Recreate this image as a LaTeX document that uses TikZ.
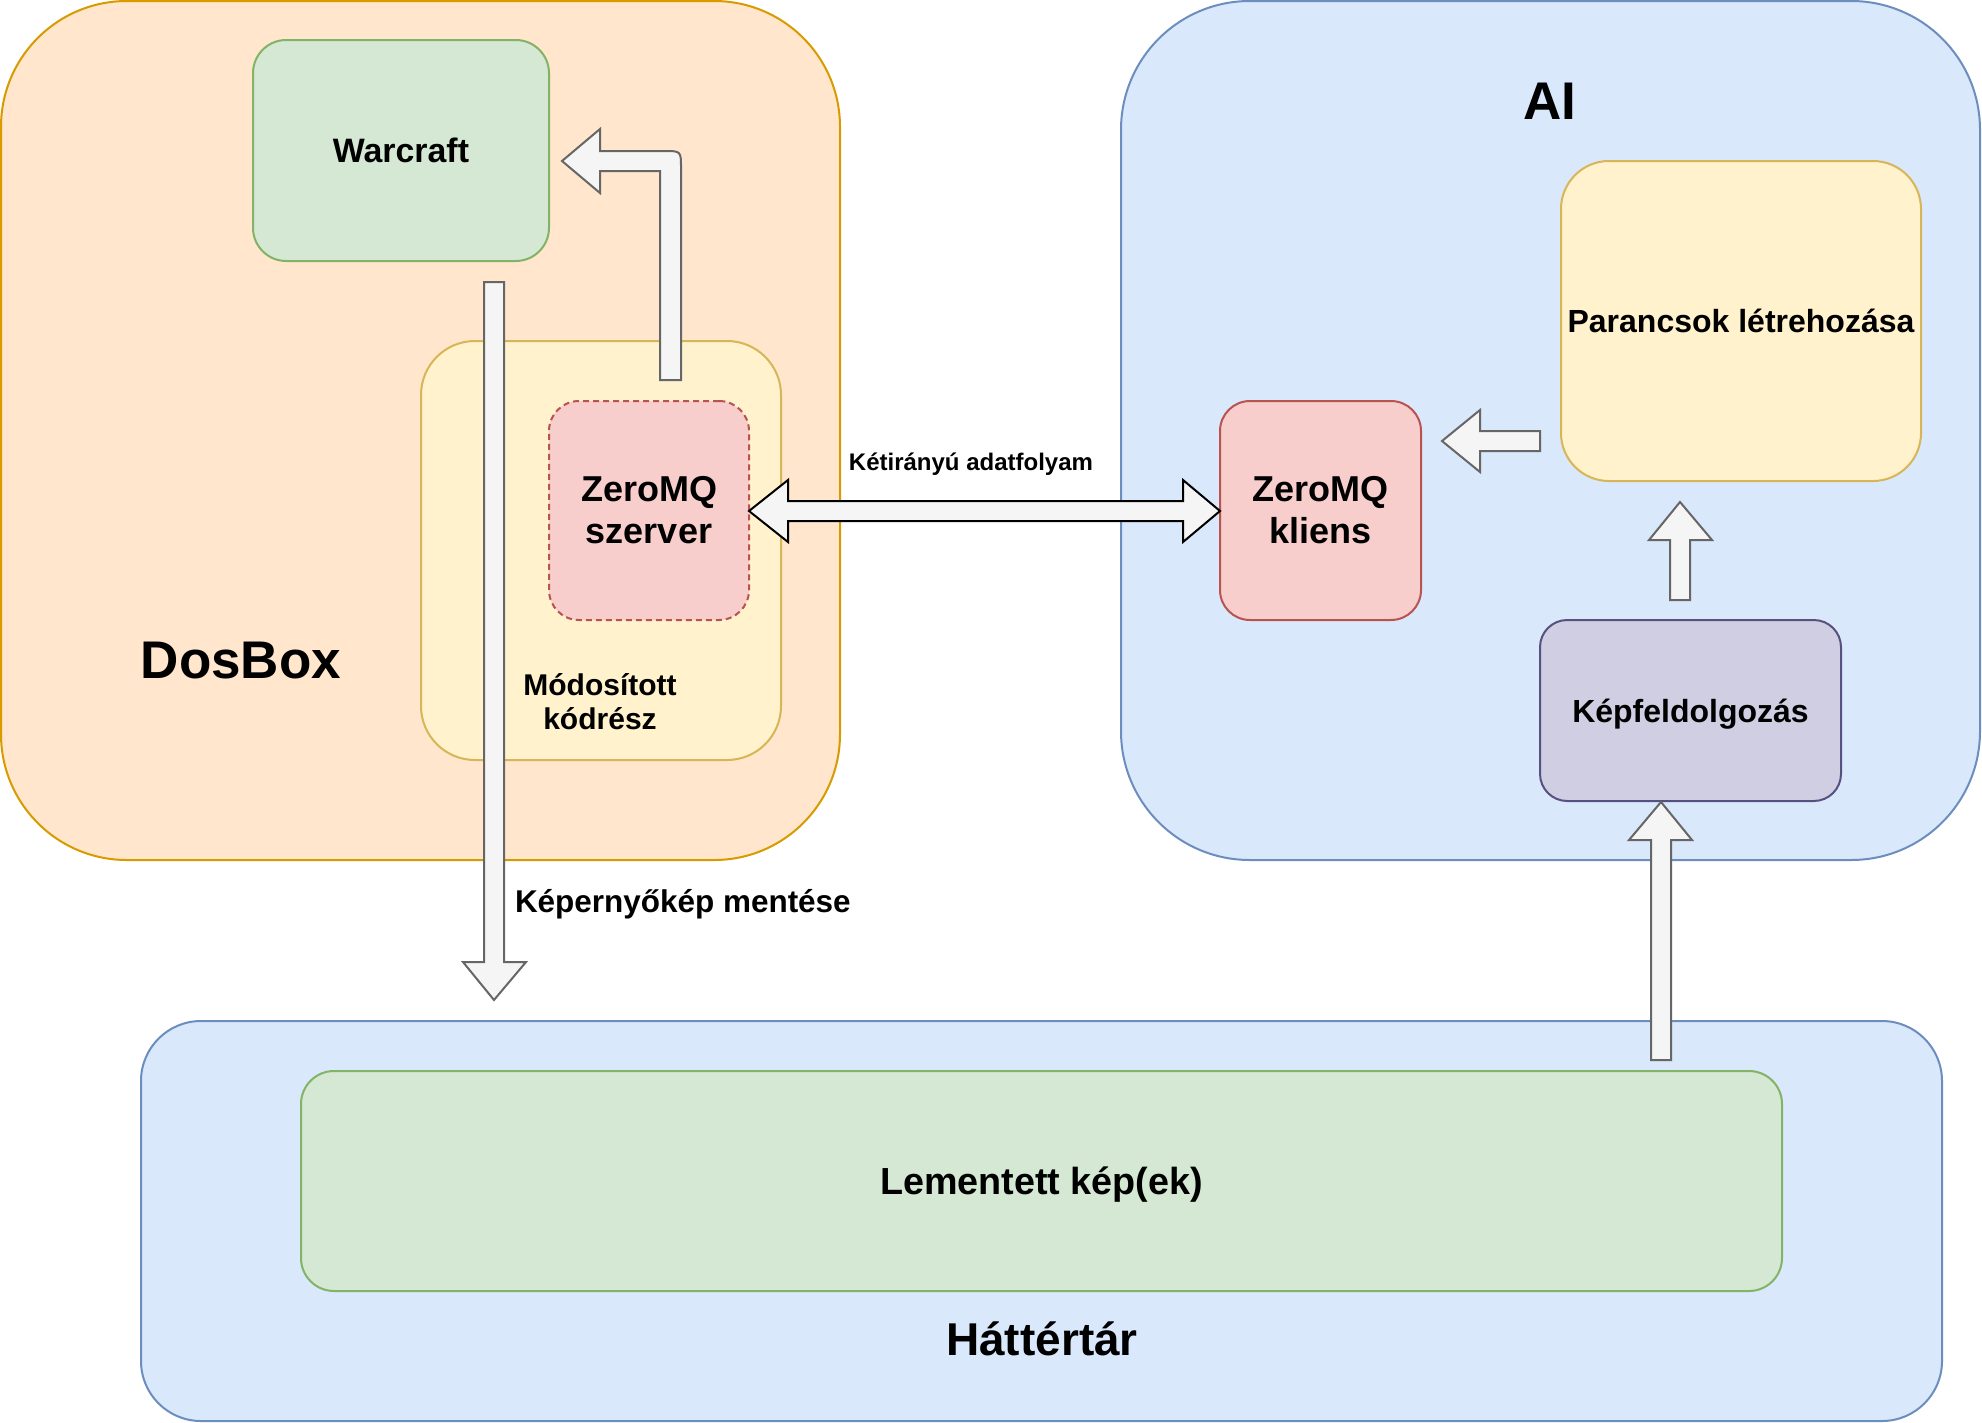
\documentclass[tikz,border=0pt]{standalone}
\usepackage{fontspec}
\setmainfont{Liberation Sans}
\definecolor{dosfill}{HTML}{FFE6CC}
\definecolor{dosline}{HTML}{D79B00}
\definecolor{bluefill}{HTML}{DAE8FC}
\definecolor{blueline}{HTML}{6C8EBF}
\definecolor{greenfill}{HTML}{D5E8D4}
\definecolor{greenline}{HTML}{82B366}
\definecolor{yelfill}{HTML}{FFF2CC}
\definecolor{yelline}{HTML}{D6B656}
\definecolor{redfill}{HTML}{F8CECC}
\definecolor{redline}{HTML}{B85450}
\definecolor{purfill}{HTML}{D0CEE2}
\definecolor{purline}{HTML}{56517E}
\definecolor{arrfill}{HTML}{F5F5F5}
\definecolor{arrgray}{HTML}{666666}
\begin{document}
\begin{tikzpicture}[x=0.75pt,y=-0.75pt,
  box/.style={draw, line width=1.5pt, inner sep=0pt, outer sep=0pt, align=center},
  arr/.style={draw=arrgray, fill=arrfill, line width=1.5pt, line join=miter},
  lbl/.style={inner sep=0pt, outer sep=0pt, align=center}
]
\useasboundingbox (0,0) rectangle (1982,1422);
\fill[white] (0,0) rectangle (1982,1422);

% containers
\node[box, fill=dosfill, draw=dosline, minimum width=629.25pt, minimum height=644.25pt, rounded corners=94.4pt] (dosbox) at (420.5,430.5) {};
\node[box, fill=bluefill, draw=blueline, minimum width=644.25pt, minimum height=644.25pt, rounded corners=96.6pt] (ai) at (1550.5,430.5) {};
\node[box, fill=bluefill, draw=blueline, minimum width=1350.75pt, minimum height=300pt, rounded corners=45pt] (hatter) at (1041.5,1221) {};

% container labels
\node[lbl, anchor=base, font=\bfseries\fontsize{39.75pt}{46pt}\selectfont] (doslbl) at (241,678.5) {DosBox};
\node[lbl, anchor=base, font=\bfseries\fontsize{39.75pt}{46pt}\selectfont] (ailbl) at (1550,119) {AI};
\node[lbl, anchor=base, font=\bfseries\fontsize{34.5pt}{40pt}\selectfont] (hatterlbl) at (1042,1355) {Háttértár};

% inner boxes
\node[box, fill=greenfill, draw=greenline, minimum width=222pt, minimum height=165.75pt, rounded corners=24.9pt, font=\bfseries\fontsize{25.4pt}{29pt}\selectfont] (warcraft) at (401,150.5) {Warcraft};
\node[box, fill=yelfill, draw=yelline, minimum width=270pt, minimum height=314.25pt, rounded corners=40.5pt] (modos) at (601,550.5) {};
\node[lbl, font=\bfseries\fontsize{22.5pt}{25.5pt}\selectfont] (modoslbl) at (600,701.5) {Módosított\\kódrész};
\node[box, fill=redfill, draw=redline, dash pattern=on 4.5pt off 3pt, minimum width=150pt, minimum height=164.25pt, rounded corners=22.5pt, font=\bfseries\fontsize{27pt}{31.5pt}\selectfont] (szerver) at (649,510.5) {ZeroMQ\\szerver};
\node[box, fill=redfill, draw=redline, minimum width=150.75pt, minimum height=164.25pt, rounded corners=22.5pt, font=\bfseries\fontsize{27pt}{31.5pt}\selectfont] (kliens) at (1320.5,510.5) {ZeroMQ\\kliens};
\node[box, fill=yelfill, draw=yelline, minimum width=270pt, minimum height=240pt, rounded corners=36pt, font=\bfseries\fontsize{24pt}{28pt}\selectfont] (parancs) at (1741,321) {Parancsok létrehozása};
\node[box, fill=purfill, draw=purline, minimum width=225.75pt, minimum height=135.75pt, rounded corners=20.4pt, font=\bfseries\fontsize{24pt}{28pt}\selectfont, text depth=0pt] (kepfeld) at (1690.5,710.5) {Képfeldolgozás};
\node[box, fill=greenfill, draw=greenline, minimum width=1110.75pt, minimum height=165pt, rounded corners=24.75pt, font=\bfseries\fontsize{28.3pt}{32pt}\selectfont, text depth=0pt] (lement) at (1041.5,1181) {Lementett kép(ek)};

% arrows
% screenshot save (down)
\draw[arr] (484,282) -- (504,282) -- (504,962) -- (526,962) -- (494,1000) -- (463,962) -- (484,962) -- cycle;
% modified code -> Warcraft (bent)
\draw[arr] (660,380) -- (681,380) -- (681,168) .. controls (681,151) .. (664,151) -- (600,151) -- (600,129) -- (562,161) -- (600,193) -- (600,171) -- (660,171) -- cycle;
% bidirectional
\draw[arr, draw=black] (749,511) -- (788,480) -- (788,501) -- (1183,501) -- (1183,480) -- (1220,511) -- (1183,542) -- (1183,521) -- (788,521) -- (788,542) -- cycle;
% parancsok -> kliens
\draw[arr] (1442,441) -- (1480,410) -- (1480,431) -- (1540,431) -- (1540,451) -- (1480,451) -- (1480,472) -- cycle;
% kepfeld -> parancsok
\draw[arr] (1680,502) -- (1712,540) -- (1690,540) -- (1690,600) -- (1670,600) -- (1670,540) -- (1649,540) -- cycle;
% lementett -> kepfeld
\draw[arr] (1661,802) -- (1692,840) -- (1671,840) -- (1671,1060) -- (1651,1060) -- (1651,840) -- (1629,840) -- cycle;

% arrow labels
\node[lbl, anchor=base, font=\bfseries\fontsize{18pt}{21pt}\selectfont] (ketir) at (971,470) {Kétirányú adatfolyam};
\node[lbl, anchor=base west, font=\bfseries\fontsize{23.6pt}{27pt}\selectfont] (kepern) at (515,912) {Képernyőkép mentése};
\end{tikzpicture}
\end{document}
